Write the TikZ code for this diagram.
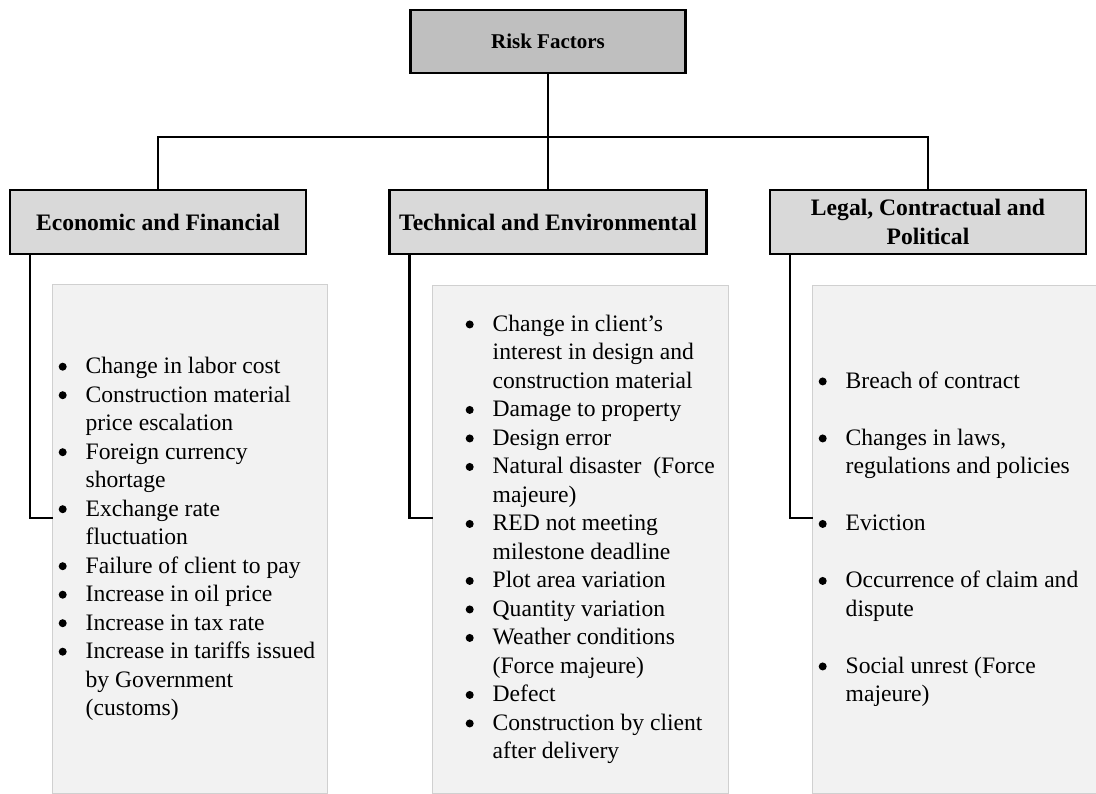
\documentclass[tikz,border=0pt]{standalone}
\usepackage{fontspec}
\setmainfont{Liberation Serif}
\definecolor{rootfill}{HTML}{BFBFBF}
\definecolor{catfill}{HTML}{D9D9D9}
\definecolor{listfill}{HTML}{F2F2F2}
\definecolor{listedge}{HTML}{D0D0D0}
% bullet and continuation-line indents for the risk lists
\newcommand{\itembul}{\makebox[27pt][l]{\tikz[x=1pt,y=1pt,baseline={(0,-7pt)}]\fill (4.2pt,0) circle (4pt);}}
\newcommand{\itemcont}{\hspace*{27pt}}
\begin{document}
\begin{tikzpicture}[x=1pt,y=-1pt,
  conn/.style={line width=2.2pt, line cap=rect},
  rootbox/.style={draw, line width=2.2pt, fill=rootfill, minimum width=275pt,
    minimum height=63pt, inner sep=0pt, font=\fontsize{21}{25}\selectfont\bfseries},
  catbox/.style={draw, line width=2.2pt, fill=catfill, minimum height=64pt,
    inner sep=0pt, align=center, font=\fontsize{23.6}{28.5}\selectfont\bfseries},
  listbox/.style={draw=listedge, line width=1pt, fill=listfill, inner sep=0pt},
  listtext/.style={anchor=west, inner sep=0pt, align=left,
    font=\fontsize{23.6}{28.5}\selectfont}
]
\useasboundingbox (0,0) rectangle (1096,794);

% root and category boxes
\node[rootbox] (root) at (548,41.5) {Risk Factors};
\node[catbox, minimum width=296pt] (econ)  at (158,222) {Economic and Financial};
\node[catbox, minimum width=317pt] (tech)  at (548,222) {Technical and Environmental};
\node[catbox, minimum width=316pt] (legal) at (928,222) {Legal, Contractual and\\Political};

% list panels
\node[listbox, minimum width=275pt, minimum height=508pt] (econL)  at (189.5,539)   {};
\node[listbox, minimum width=296pt, minimum height=507pt] (techL)  at (580,539.5)   {};
\node[listbox, minimum width=285pt, minimum height=507pt] (legalL) at (954.5,539.5) {};

\node[listtext] (econT) at ([xshift=7pt]econL.west) {\begin{tabular}{@{}l@{}}
\itembul Change in labor cost\\
\itembul Construction material\\
\itemcont price escalation\\
\itembul Foreign currency\\
\itemcont shortage\\
\itembul Exchange rate\\
\itemcont fluctuation\\
\itembul Failure of client to pay\\
\itembul Increase in oil price\\
\itembul Increase in tax rate\\
\itembul Increase in tariffs issued\\
\itemcont by Government\\
\itemcont (customs)
\end{tabular}};

\node[listtext] (techT) at ([xshift=34pt]techL.west) {\begin{tabular}{@{}l@{}}
\itembul Change in client’s\\
\itemcont interest in design and\\
\itemcont construction material\\
\itembul Damage to property\\
\itembul Design error\\
\itembul Natural disaster~ (Force\\
\itemcont majeure)\\
\itembul RED not meeting\\
\itemcont milestone deadline\\
\itembul Plot area variation\\
\itembul Quantity variation\\
\itembul Weather conditions\\
\itemcont (Force majeure)\\
\itembul Defect\\
\itembul Construction by client\\
\itemcont after delivery
\end{tabular}};

\node[listtext] (legalT) at ([xshift=7pt]legalL.west) {\begin{tabular}{@{}l@{}}
\itembul Breach of contract\\
\\
\itembul Changes in laws,\\
\itemcont regulations and policies\\
\\
\itembul Eviction\\
\\
\itembul Occurrence of claim and\\
\itemcont dispute\\
\\
\itembul Social unrest (Force\\
\itemcont majeure)
\end{tabular}};

% tree connectors
\coordinate (bus) at (548,137);
\draw[conn] (root.south) -- (tech.north);
\draw[conn] (econ.north) -- (econ.north |- bus) -- (legal.north |- bus) -- (legal.north);

% taps from each category down to its list panel
\coordinate (econTap)  at (0,518);
\coordinate (techTap)  at (0,518);
\coordinate (legalTap) at (0,518);
\draw[conn] ([xshift=21pt]econ.south west)  |- (econL.west |- econTap);
\draw[conn] ([xshift=21pt]tech.south west)  |- (techL.west |- techTap);
\draw[conn] ([xshift=21pt]legal.south west) |- (legalL.west |- legalTap);
\end{tikzpicture}
\end{document}
